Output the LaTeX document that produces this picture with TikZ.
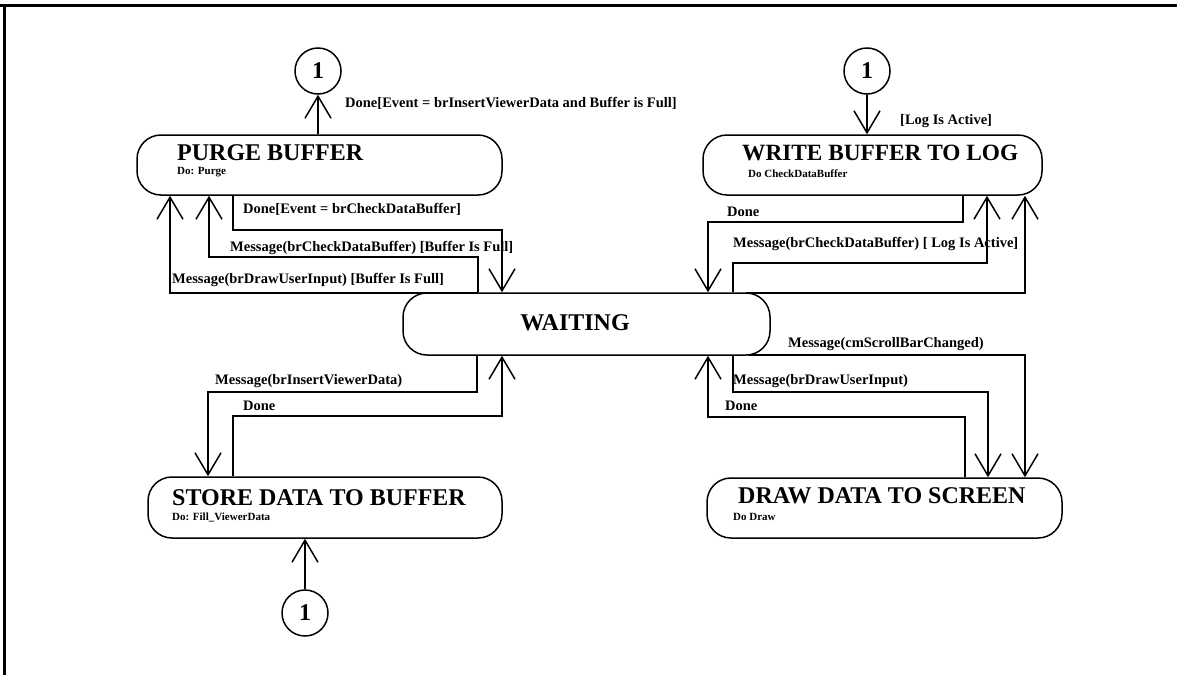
\documentclass[tikz,border=0pt]{standalone}
\usepackage{fontspec}
\setmainfont{Liberation Serif}
\usetikzlibrary{arrows.meta,calc}
\begin{document}
\begin{tikzpicture}[x=1pt,y=-1pt,
  statebox/.style={draw, line width=1.5pt, rounded corners=24pt, inner sep=0pt},
  conn/.style={draw, circle, line width=1.5pt, minimum size=46pt, inner sep=0pt,
    font=\fontsize{24}{24}\selectfont\bfseries},
  flow/.style={line width=1.5pt},
  arr/.style={flow, -{Straight Barb[length=22pt,width=26pt,line width=1.5pt]}},
  title/.style={anchor=base west, inner sep=0pt, font=\fontsize{24}{24}\selectfont\bfseries},
  sub/.style={anchor=base west, inner sep=0pt, font=\fontsize{11}{11}\selectfont\bfseries},
  lbl/.style={anchor=base west, inner sep=0pt, font=\fontsize{14.5}{14.5}\selectfont\bfseries},
]
\useasboundingbox (0,0) rectangle (1177,675);

% frame (top and left edges)
\draw[line width=3pt] (0,5) -- (1177,5);
\draw[line width=3pt] (4,5) -- (4,675);

% states
\node[statebox, minimum width=365pt, minimum height=60pt] (purge) at (319.5,165) {};
\node[statebox, minimum width=339pt, minimum height=60pt] (write) at (872.5,165) {};
\node[statebox, minimum width=367pt, minimum height=62pt] (waiting) at (586.5,324) {};
\node[statebox, minimum width=354pt, minimum height=61pt] (store) at (325,507.5) {};
\node[statebox, minimum width=355pt, minimum height=60pt] (draw) at (884.5,508) {};

% state names and activities
\node[title] (tpurge) at (177,160) {PURGE BUFFER};
\node[sub] (spurge) at (177,174) {Do: Purge};
\node[title, font=\fontsize{23.3}{23.3}\selectfont\bfseries] (twrite) at (742,160) {WRITE BUFFER TO LOG};
\node[sub] (swrite) at (748,177) {Do CheckDataBuffer};
\node[title, anchor=base] (twait) at (575,330) {WAITING};
\node[title] (tstore) at (172,505) {STORE DATA TO BUFFER};
\node[sub] (sstore) at (172,520) {Do: Fill\_ViewerData};
\node[title] (tdraw) at (738,503) {DRAW DATA TO SCREEN};
\node[sub] (sdraw) at (733,520) {Do Draw};

% connector circles
\node[conn] (c1) at (318,71) {1};
\node[conn] (c2) at (867,71) {1};
\node[conn] (c3) at (305,613) {1};

% bend points
\coordinate (a1) at (233,230);  \coordinate (a2) at (502,230);
\coordinate (b1) at (478,257);  \coordinate (b2) at (209,257);
\coordinate (e1) at (478,293);  \coordinate (e2) at (170,293);
\coordinate (f1) at (963,222);  \coordinate (f2) at (708,222);
\coordinate (g1) at (733,263);  \coordinate (g2) at (987,263);
\coordinate (h1) at (746,293);  \coordinate (h2) at (1025,293);
\coordinate (i1) at (477,392);  \coordinate (i2) at (208,392);
\coordinate (j1) at (233,416);  \coordinate (j2) at (502,416);
\coordinate (k1) at (965,417);  \coordinate (k2) at (708,417);
\coordinate (m1) at (733,392);  \coordinate (m2) at (988,392);
\coordinate (n1) at (748,355);  \coordinate (n2) at (1025,355);

% transitions
\draw[arr] (c1 |- purge.north) -- (c1.south);
\draw[arr] (c2.south) -- (c2 |- write.north);
\draw[arr] (c3.north) -- (c3 |- store.south);

\draw[arr] (a1 |- purge.south) -- (a1) -- (a2) -- (a2 |- waiting.north);
\draw[arr] (b1 |- waiting.north) -- (b1) -- (b2) -- (b2 |- purge.south);
\draw[arr] (e1) -- (e2) -- (e2 |- purge.south);

\draw[arr] (f1 |- write.south) -- (f1) -- (f2) -- (f2 |- waiting.north);
\draw[arr] (g1 |- waiting.north) -- (g1) -- (g2) -- (g2 |- write.south);
\draw[arr] (h1) -- (h2) -- (h2 |- write.south);

\draw[arr] (i1 |- waiting.south) -- (i1) -- (i2) -- (i2 |- store.north);
\draw[arr] (j1 |- store.north) -- (j1) -- (j2) -- (j2 |- waiting.south);

\draw[arr] (k1 |- draw.north) -- (k1) -- (k2) -- (k2 |- waiting.south);
\draw[arr] (m1 |- waiting.south) -- (m1) -- (m2) -- (m2 |- draw.north);
\draw[arr] (n1) -- (n2) -- (n2 |- draw.north);

% transition labels
\node[lbl] (l1) at (345,107) {Done[Event = brInsertViewerData and Buffer is Full]};
\node[lbl] (l2) at (900,124) {[Log Is Active]};
\node[lbl] (l3) at (243,213) {Done[Event = brCheckDataBuffer]};
\node[lbl] (l4) at (230,251) {Message(brCheckDataBuffer) [Buffer Is Full]};
\node[lbl] (l5) at (172,283) {Message(brDrawUserInput) [Buffer Is Full]};
\node[lbl] (l6) at (727,216) {Done};
\node[lbl] (l7) at (733,247) {Message(brCheckDataBuffer) [ Log Is Active]};
\node[lbl] (l8) at (215,384) {Message(brInsertViewerData)};
\node[lbl] (l9) at (243,410) {Done};
\node[lbl] (l10) at (788,347) {Message(cmScrollBarChanged)};
\node[lbl] (l11) at (733,384) {Message(brDrawUserInput)};
\node[lbl] (l12) at (725,410) {Done};

\end{tikzpicture}
\end{document}
